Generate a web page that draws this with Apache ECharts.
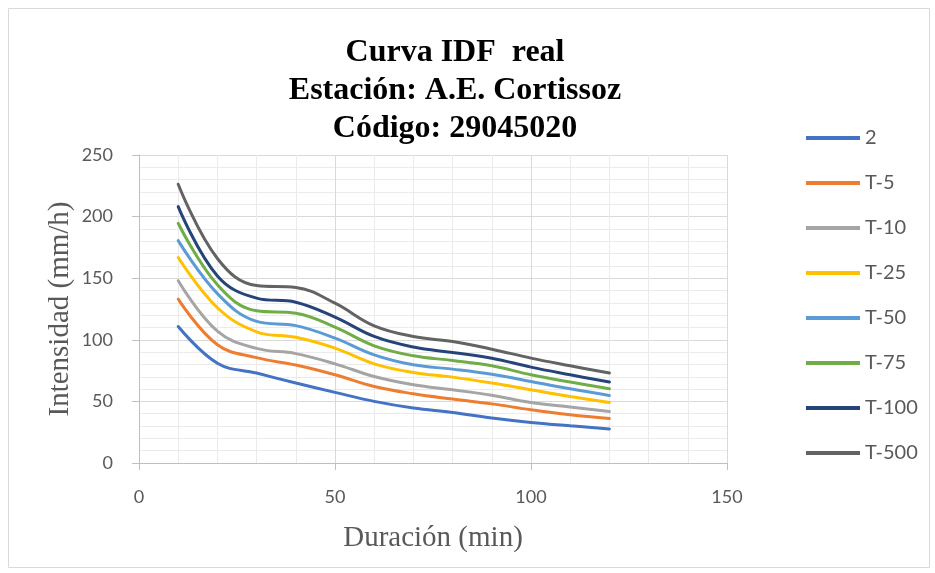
<!DOCTYPE html>
<html>
<head>
<meta charset="utf-8">
<script src="https://cdn.jsdelivr.net/npm/echarts@6/dist/echarts.min.js"></script>
<style>
  html, body { margin: 0; padding: 0; background: #fff; }
  #chart { width: 935px; height: 573px; }
</style>
</head>
<body>
<div id="chart"></div>
<script>
// Duration (min) and rainfall intensity (mm/h) per return period
const durations = [10, 20, 30, 40, 50, 60, 70, 80, 90, 100, 110, 120];
const seriesNames = ['2', 'T-5', 'T-10', 'T-25', 'T-50', 'T-75', 'T-100', 'T-500'];
const t2   = [110.8, 81.0, 73.0, 64.9, 57.3, 50.0, 44.6, 41.0, 36.5, 32.9, 30.2, 27.6];
const t5   = [133.0, 96.0, 85.5, 79.5, 71.6, 62.1, 56.2, 51.9, 48.0, 43.2, 39.2, 36.2];
const t10  = [148.0, 107.0, 93.0, 88.8, 80.5, 70.2, 63.5, 59.4, 55.0, 49.1, 45.4, 41.8];
const t25  = [166.8, 126.0, 106.5, 102.0, 93.2, 80.5, 73.5, 69.7, 64.9, 59.4, 54.0, 49.1];
const t50  = [180.5, 137.5, 115.0, 111.5, 101.4, 87.8, 79.7, 76.2, 72.0, 66.2, 60.2, 54.8];
const t75  = [194.6, 144.6, 123.5, 121.6, 110.3, 95.1, 87.0, 83.2, 78.9, 71.6, 65.7, 60.2];
const t100 = [208.1, 151.8, 133.8, 130.5, 118.4, 102.7, 94.1, 89.7, 85.1, 77.8, 71.6, 65.7];
const t500 = [226.3, 166.0, 144.0, 142.5, 129.7, 111.3, 102.7, 98.6, 92.4, 85.1, 78.9, 73.0];
const seriesValues = [t2, t5, t10, t25, t50, t75, t100, t500];
const colors = ['#4472C4', '#ED7D31', '#A5A5A5', '#FFC000', '#5B9BD5', '#70AD47', '#264478', '#636363'];

const labelFont = 'Lato, "Open Sans", "Liberation Sans", sans-serif';
const serifFont = '"Liberation Serif", "DejaVu Serif", serif';

const chart = echarts.init(document.getElementById('chart'), null, { renderer: 'canvas' });

const series = seriesNames.map((name, i) => ({
  name: name,
  type: 'line',
  smooth: 0.4,
  symbol: 'none',
  data: durations.map((d, j) => [d, seriesValues[i][j]]),
  lineStyle: { width: 3, color: colors[i], cap: 'round' },
  itemStyle: { color: colors[i] },
  z: 3
}));

chart.setOption({
  animation: false,
  backgroundColor: '#ffffff',
  graphic: [{
    type: 'rect',
    shape: { x: 8.5, y: 8.5, width: 921, height: 559 },
    style: { fill: 'none', stroke: '#d9d9d9', lineWidth: 1 },
    silent: true
  }],
  title: {
    text: 'Curva IDF  real\nEstación: A.E. Cortissoz\nCódigo: 29045020',
    left: 450,
    top: 29,
    textAlign: 'center',
    textStyle: {
      fontFamily: serifFont,
      fontWeight: 'bold',
      fontSize: 32,
      lineHeight: 38,
      color: '#000000'
    }
  },
  legend: {
    orient: 'vertical',
    left: 806,
    top: 127,
    padding: 0,
    icon: 'rect',
    itemWidth: 54,
    itemHeight: 4,
    itemGap: 23,
    data: seriesNames,
    textStyle: { fontFamily: labelFont, fontSize: 20, color: '#595959', lineHeight: 22 }
  },
  grid: { left: 139, right: 208, top: 155, bottom: 110, containLabel: false },
  xAxis: {
    type: 'value',
    min: 0,
    max: 150,
    interval: 50,
    name: 'Duración (min)',
    nameLocation: 'middle',
    nameGap: 61,
    nameMoveOverlap: false,
    nameTextStyle: { fontFamily: serifFont, fontSize: 29, color: '#595959' },
    axisLine: { show: true, lineStyle: { color: '#bfbfbf', width: 1 } },
    axisTick: { show: true, length: 7, lineStyle: { color: '#bfbfbf' } },
    axisLabel: { margin: 25, fontFamily: labelFont, fontSize: 18, color: '#595959' },
    splitLine: { show: true, lineStyle: { color: '#d9d9d9', width: 1 } },
    minorTick: { show: false, splitNumber: 5 },
    minorSplitLine: { show: true, lineStyle: { color: '#ebebeb', width: 1 } }
  },
  yAxis: {
    type: 'value',
    min: 0,
    max: 250,
    interval: 50,
    name: 'Intensidad (mm/h)',
    nameLocation: 'middle',
    nameGap: 64,
    nameMoveOverlap: false,
    nameTextStyle: { fontFamily: serifFont, fontSize: 29, color: '#595959' },
    axisLine: { show: true, lineStyle: { color: '#bfbfbf', width: 1 } },
    axisTick: { show: true, length: 7, lineStyle: { color: '#bfbfbf' } },
    axisLabel: { margin: 26, fontFamily: labelFont, fontSize: 18, color: '#595959' },
    splitLine: { show: true, lineStyle: { color: '#d9d9d9', width: 1 } },
    minorTick: { show: false, splitNumber: 5 },
    minorSplitLine: { show: true, lineStyle: { color: '#ebebeb', width: 1 } }
  },
  series: series
});
</script>
</body>
</html>
